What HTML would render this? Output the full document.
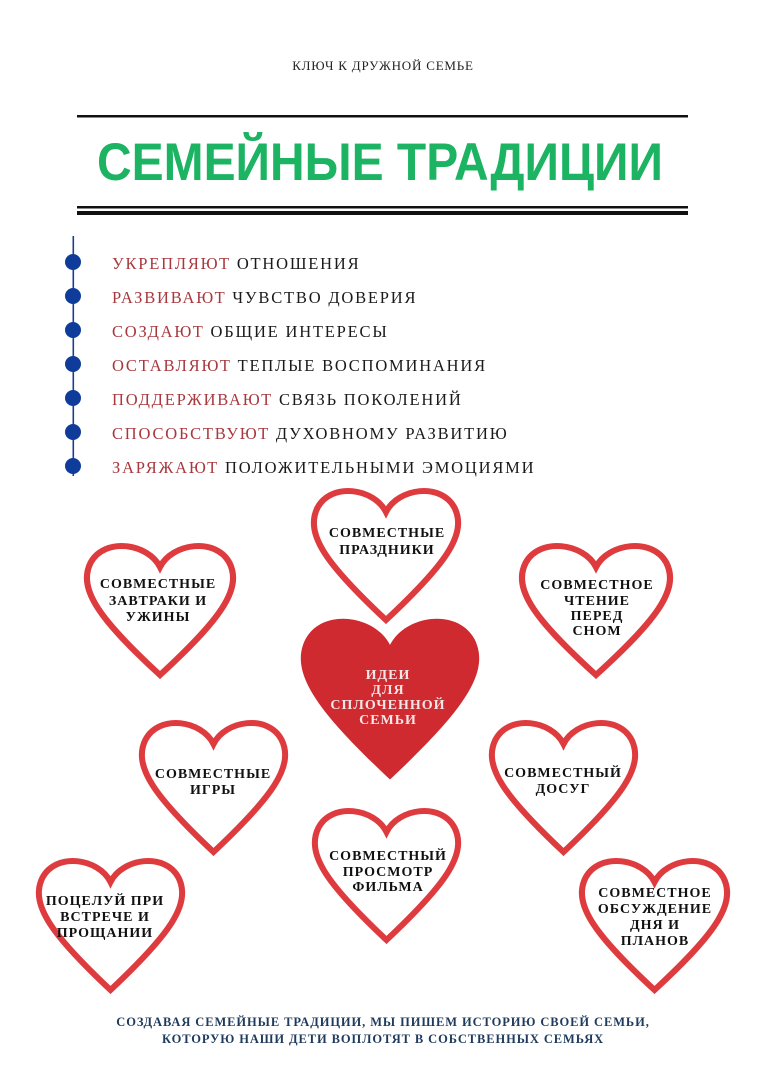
<!DOCTYPE html>
<html><head><meta charset="utf-8"><style>
html,body{margin:0;padding:0;background:#fff;}
svg{display:block}
.s{font-family:"Liberation Serif",serif;}
.h{font-family:"Liberation Serif",serif;font-weight:bold;font-size:14px;letter-spacing:1px;fill:#111;text-anchor:middle}
.b{font-family:"Liberation Serif",serif;font-size:16.5px;letter-spacing:1.8px}
.r{fill:#a8383e}.d{fill:#1a1a1a}
</style></head><body>
<svg width="764" height="1080" viewBox="0 0 764 1080">
<defs>
<path id="hp" d="M50 16 C42 0,14 -4,5 13 C-4 31,12 52,50 88 C88 52,104 31,95 13 C86 -4,58 0,50 16 Z"/>
</defs>
<text x="383" y="70" text-anchor="middle" class="s" font-size="13" letter-spacing="0.8" fill="#222">КЛЮЧ К ДРУЖНОЙ СЕМЬЕ</text>
<rect x="77" y="115" width="611" height="2.5" fill="#111"/>
<text x="380" y="180" text-anchor="middle" font-family="Liberation Sans,sans-serif" font-weight="bold" font-size="53" fill="#1cb463" textLength="566" lengthAdjust="spacingAndGlyphs">СЕМЕЙНЫЕ ТРАДИЦИИ</text>
<rect x="77" y="206" width="611" height="2.5" fill="#111"/>
<rect x="77" y="211" width="611" height="4" fill="#111"/>

<rect x="72.5" y="236" width="1.6" height="240" fill="#1b3f8f"/>
<g fill="#0f3c9a">
<circle cx="73" cy="262" r="8"/><circle cx="73" cy="296" r="8"/><circle cx="73" cy="330" r="8"/><circle cx="73" cy="364" r="8"/><circle cx="73" cy="398" r="8"/><circle cx="73" cy="432" r="8"/><circle cx="73" cy="466" r="8"/>
</g>
<g class="b">
<text x="112" y="269"><tspan class="r">УКРЕПЛЯЮТ</tspan><tspan class="d"> ОТНОШЕНИЯ</tspan></text>
<text x="112" y="303"><tspan class="r">РАЗВИВАЮТ</tspan><tspan class="d"> ЧУВСТВО ДОВЕРИЯ</tspan></text>
<text x="112" y="337"><tspan class="r">СОЗДАЮТ</tspan><tspan class="d"> ОБЩИЕ ИНТЕРЕСЫ</tspan></text>
<text x="112" y="371"><tspan class="r">ОСТАВЛЯЮТ</tspan><tspan class="d"> ТЕПЛЫЕ ВОСПОМИНАНИЯ</tspan></text>
<text x="112" y="405"><tspan class="r">ПОДДЕРЖИВАЮТ</tspan><tspan class="d"> СВЯЗЬ ПОКОЛЕНИЙ</tspan></text>
<text x="112" y="439"><tspan class="r">СПОСОБСТВУЮТ</tspan><tspan class="d"> ДУХОВНОМУ РАЗВИТИЮ</tspan></text>
<text x="112" y="473"><tspan class="r">ЗАРЯЖАЮТ</tspan><tspan class="d"> ПОЛОЖИТЕЛЬНЫМИ ЭМОЦИЯМИ</tspan></text>
</g>

<g fill="#fff" stroke="#de3b3f" stroke-width="4">
<use href="#hp" transform="translate(310,488) scale(1.52,1.5)"/>
<use href="#hp" transform="translate(83,543) scale(1.54,1.5)"/>
<use href="#hp" transform="translate(518,543) scale(1.56,1.5)"/>
<use href="#hp" transform="translate(138,720) scale(1.51,1.5)"/>
<use href="#hp" transform="translate(488,720) scale(1.51,1.5)"/>
<use href="#hp" transform="translate(311,808) scale(1.51,1.5)"/>
<use href="#hp" transform="translate(35,858) scale(1.51,1.5)"/>
<use href="#hp" transform="translate(578,858) scale(1.53,1.5)"/>
</g>
<use href="#hp" transform="translate(296,615) scale(1.88,1.87)" fill="#cf2a2f"/>

<text class="h" x="387" y="537">СОВМЕСТНЫЕ</text><text class="h" x="387" y="554">ПРАЗДНИКИ</text>
<text class="h" x="158" y="588">СОВМЕСТНЫЕ</text><text class="h" x="158" y="605">ЗАВТРАКИ И</text><text class="h" x="158" y="621">УЖИНЫ</text>
<text class="h" x="597" y="589">СОВМЕСТНОЕ</text><text class="h" x="597" y="605">ЧТЕНИЕ</text><text class="h" x="597" y="620">ПЕРЕД</text><text class="h" x="597" y="635">СНОМ</text>
<g class="h" style="fill:#f4e6e6">
<text x="388" y="679">ИДЕИ</text><text x="388" y="694">ДЛЯ</text><text x="388" y="709">СПЛОЧЕННОЙ</text><text x="388" y="724">СЕМЬИ</text>
</g>
<text class="h" x="213" y="778">СОВМЕСТНЫЕ</text><text class="h" x="213" y="794">ИГРЫ</text>
<text class="h" x="563" y="777">СОВМЕСТНЫЙ</text><text class="h" x="563" y="793">ДОСУГ</text>
<text class="h" x="388" y="860">СОВМЕСТНЫЙ</text><text class="h" x="388" y="876">ПРОСМОТР</text><text class="h" x="388" y="891">ФИЛЬМА</text>
<text class="h" x="105" y="905">ПОЦЕЛУЙ ПРИ</text><text class="h" x="105" y="921">ВСТРЕЧЕ И</text><text class="h" x="105" y="937">ПРОЩАНИИ</text>
<text class="h" x="655" y="897">СОВМЕСТНОЕ</text><text class="h" x="655" y="913">ОБСУЖДЕНИЕ</text><text class="h" x="655" y="929">ДНЯ И</text><text class="h" x="655" y="945">ПЛАНОВ</text>

<g class="s" font-weight="bold" font-size="12.5" fill="#1e3a5c" text-anchor="middle" letter-spacing="0.9">
<text x="383" y="1026">СОЗДАВАЯ СЕМЕЙНЫЕ ТРАДИЦИИ, МЫ ПИШЕМ ИСТОРИЮ СВОЕЙ СЕМЬИ,</text>
<text x="383" y="1043">КОТОРУЮ НАШИ ДЕТИ ВОПЛОТЯТ В СОБСТВЕННЫХ СЕМЬЯХ</text>
</g>
</svg>
</body></html>
